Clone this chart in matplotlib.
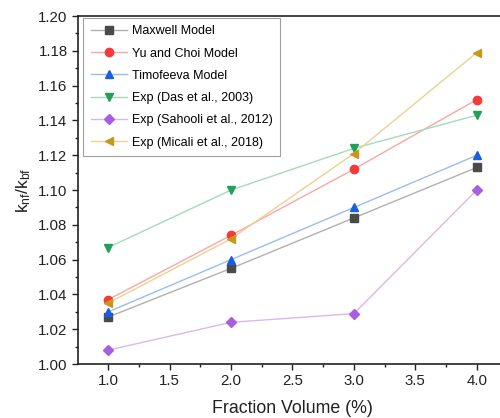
import matplotlib
matplotlib.use("Agg")
import matplotlib.pyplot as plt
from matplotlib.ticker import MultipleLocator

plt.rcParams["font.family"] = ["Liberation Sans", "DejaVu Sans"]

# fraction volume (%)
volume = [1.0, 2.0, 3.0, 4.0]

maxwell = [1.027, 1.055, 1.084, 1.113]
yu_choi = [1.037, 1.074, 1.112, 1.152]
timofeeva = [1.030, 1.060, 1.090, 1.120]
das = [1.067, 1.100, 1.124, 1.143]
sahooli = [1.008, 1.024, 1.029, 1.100]
micali = [1.035, 1.072, 1.121, 1.179]

labels = [
    "Maxwell Model",
    "Yu and Choi Model",
    "Timofeeva Model",
    "Exp (Das et al., 2003)",
    "Exp (Sahooli et al., 2012)",
    "Exp (Micali et al., 2018)",
]
series = [maxwell, yu_choi, timofeeva, das, sahooli, micali]

# (marker colour, line colour, marker)
styles = [
    ("#4a4a4a", "#b0b0b0", "s"),
    ("#f53a3a", "#f9a6a6", "o"),
    ("#1a5fe0", "#9dbcf0", "^"),
    ("#22a05a", "#a3dbb8", "v"),
    ("#a85ee0", "#d9b8f2", "D"),
    ("#c8961a", "#ecd292", "<"),
]

fig = plt.figure(figsize=(5.0, 4.18), dpi=100)
ax = fig.add_axes([0.156, 0.129, 0.859, 0.8325])

for vals, lab, (mc, lc, mk) in zip(series, labels, styles):
    ms = 5.0 if mk == "D" else 6.0
    if mk == "s":
        ms = 5.3
    ax.plot(volume, vals, color=lc, lw=1.0, marker=mk, ms=ms,
            markerfacecolor=mc, markeredgecolor=mc, label=lab)

ax.set_xlim(0.755, 4.25)
ax.set_ylim(1.00, 1.20)
ax.xaxis.set_major_locator(MultipleLocator(0.5))
ax.xaxis.set_minor_locator(MultipleLocator(0.25))
ax.yaxis.set_major_locator(MultipleLocator(0.02))
ax.yaxis.set_minor_locator(MultipleLocator(0.01))
ax.yaxis.set_major_formatter(plt.FormatStrFormatter("%.2f"))
ax.tick_params(which="both", direction="out", width=1.0, labelsize=10.8,
               colors="#222222")
ax.tick_params(which="major", length=4)
ax.tick_params(which="minor", length=2.5)
for sp in ax.spines.values():
    sp.set_linewidth(1.2)
    sp.set_color("#222222")

ax.set_xlabel("Fraction Volume (%)", fontsize=12.8, color="#222222", labelpad=8)
ax.set_ylabel(r"$\mathregular{k_{nf}/k_{bf}}$", fontsize=12.5, color="#222222",
              labelpad=4)

leg = ax.legend(loc="upper left", bbox_to_anchor=(0.012, 0.995), fontsize=9,
                frameon=True, fancybox=False, edgecolor="#888888",
                handlelength=2.9, handletextpad=0.4, labelspacing=0.82,
                borderpad=0.6, borderaxespad=0.0)
leg.get_frame().set_linewidth(0.8)

fig.savefig("out.png", dpi=100)
